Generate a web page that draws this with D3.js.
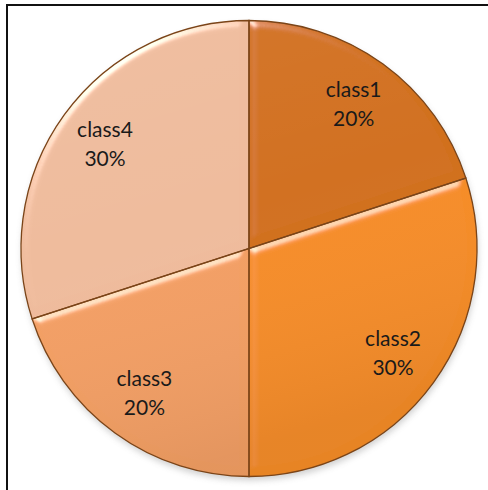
<!DOCTYPE html>
<html>
<head>
<meta charset="utf-8">
<script src="https://cdn.jsdelivr.net/npm/d3@7"></script>
<style>
  body { margin: 0; background: #fff; }
  svg { display: block; }
</style>
</head>
<body>
<div id="pie"></div>
<script>
// Chart data
var classNames = ["class1", "class2", "class3", "class4"];
var classShares = [20, 30, 20, 30];
var sliceColors = ["#d1701f", "#f68c25", "#f39f63", "#efbb9c"];

var svgWidth = 488;
var svgHeight = 490;
var cx = 249, cy = 248.5, radius = 228;

var svg = d3.select("#pie")
    .append("svg")
    .attr("width", svgWidth)
    .attr("height", svgHeight);

var defs = svg.append("defs");

// bevel-ish highlight for each slice
var bevel = defs.append("filter").attr("id", "bevel")
    .attr("x", "-5%").attr("y", "-5%").attr("width", "110%").attr("height", "110%");
bevel.append("feGaussianBlur").attr("in", "SourceAlpha").attr("stdDeviation", 4).attr("result", "blur");
bevel.append("feSpecularLighting")
    .attr("in", "blur").attr("surfaceScale", 4)
    .attr("specularConstant", 0.6).attr("specularExponent", 30)
    .attr("lighting-color", "#ffffff").attr("result", "spec")
  .append("feDistantLight").attr("azimuth", 235).attr("elevation", 25);
bevel.append("feComposite").attr("in", "spec").attr("in2", "SourceAlpha")
    .attr("operator", "in").attr("result", "specOut");
bevel.append("feComposite").attr("in", "SourceGraphic").attr("in2", "specOut")
    .attr("operator", "arithmetic").attr("k1", 0).attr("k2", 1).attr("k3", 1).attr("k4", 0);

// soft shadow under the pie
var shadow = defs.append("filter").attr("id", "shadow")
    .attr("x", "-10%").attr("y", "-10%").attr("width", "120%").attr("height", "125%");
shadow.append("feGaussianBlur").attr("stdDeviation", 3);

// overall shading, slightly darker toward the bottom
var shade = defs.append("linearGradient").attr("id", "shade")
    .attr("x1", 0).attr("y1", 0).attr("x2", 0.3).attr("y2", 1);
shade.append("stop").attr("offset", "0%").attr("stop-color", "#fff").attr("stop-opacity", 0.05);
shade.append("stop").attr("offset", "50%").attr("stop-color", "#fff").attr("stop-opacity", 0);
shade.append("stop").attr("offset", "100%").attr("stop-color", "#000").attr("stop-opacity", 0.06);

// frame (only top and left edges show in the picture)
svg.append("rect")
    .attr("x", 7).attr("y", 5)
    .attr("width", 500).attr("height", 500)
    .attr("fill", "none")
    .attr("stroke", "#111")
    .attr("stroke-width", 2);

var chartGroup = svg.append("g")
    .attr("transform", `translate(${cx}, ${cy})`);

var pie = d3.pie().sort(null).value(d => d);
var arcs = pie(classShares);

var arc = d3.arc().innerRadius(0).outerRadius(radius);
var labelArc = d3.arc().innerRadius(178).outerRadius(178);

chartGroup.append("circle")
    .attr("cx", 1).attr("cy", 4)
    .attr("r", radius)
    .attr("fill", "#999")
    .attr("opacity", 0.45)
    .attr("filter", "url(#shadow)");

chartGroup.selectAll("path.slice")
    .data(arcs)
    .enter()
    .append("path")
    .attr("class", "slice")
    .attr("d", arc)
    .attr("fill", (d, i) => sliceColors[i])
    .attr("filter", "url(#bevel)");

chartGroup.append("circle")
    .attr("r", radius)
    .attr("fill", "url(#shade)");

chartGroup.selectAll("path.edge")
    .data(arcs)
    .enter()
    .append("path")
    .attr("class", "edge")
    .attr("d", arc)
    .attr("fill", "none")
    .attr("stroke", "#7a4418")
    .attr("stroke-width", 1.3);

var labels = chartGroup.selectAll("g.lbl")
    .data(arcs)
    .enter()
    .append("g")
    .attr("class", "lbl")
    .attr("transform", d => `translate(${labelArc.centroid(d)})`);

labels.append("text")
    .attr("y", -7)
    .attr("text-anchor", "middle")
    .attr("font-family", "Lato, 'Open Sans', sans-serif")
    .attr("font-size", 21)
    .attr("fill", "#1a1a1a")
    .text((d, i) => classNames[i]);

labels.append("text")
    .attr("y", 22)
    .attr("text-anchor", "middle")
    .attr("font-family", "Lato, 'Open Sans', sans-serif")
    .attr("font-size", 21)
    .attr("fill", "#1a1a1a")
    .text((d, i) => classShares[i] + "%");
</script>
</body>
</html>
